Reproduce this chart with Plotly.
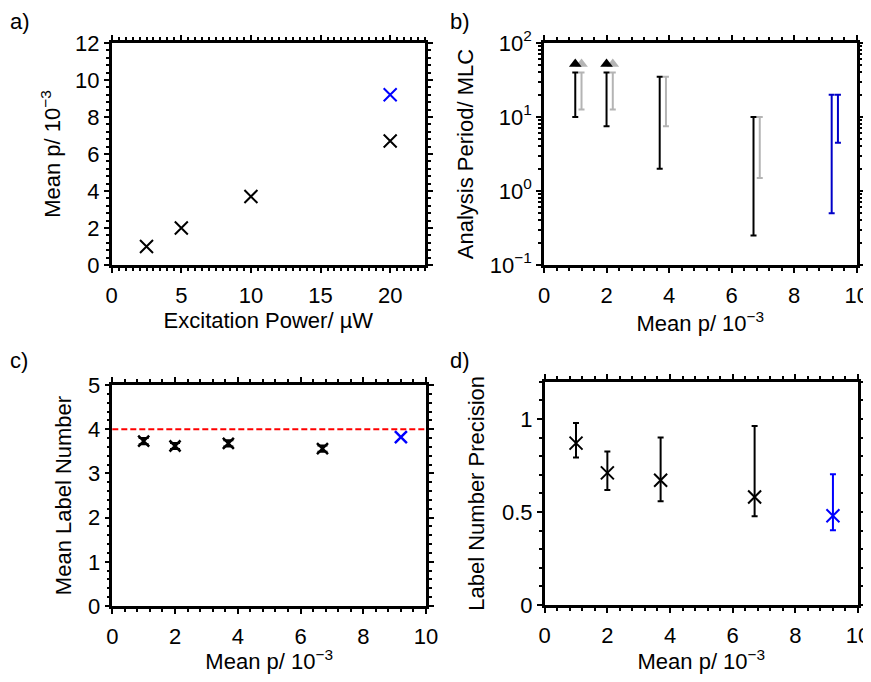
import plotly.graph_objects as go

OFF = 8            # default page body margin that offsets the figure
W, H = 863, 666    # figure size so the page fits the 871x682 window without scrollbars

# ---- panel a data ----
power = [2.5, 5, 10, 20]
mean_p_power = [1.0, 2.0, 3.7, 6.7]
power_blue = [20]
mean_p_power_blue = [9.2]

# ---- shared x (mean p / 1e-3) ----
mean_p = [1.0, 2.0, 3.7, 6.7]
mean_p_blue = [9.2]

# ---- panel b data (analysis period / MLC ranges) ----
period_black_x = [1.0, 2.0, 3.7, 6.7]
period_black_low = [10, 7.5, 2.0, 0.25]
period_black_high = [40, 40, 35, 10]
period_gray_x = [1.2, 2.2, 3.9, 6.9]
period_gray_low = [12.6, 12.6, 7.5, 1.5]
period_gray_high = [40, 40, 35, 10]
period_blue_x = [9.2, 9.4]
period_blue_low = [0.5, 4.5]
period_blue_high = [20, 20]
arrow_black_x = [1.0, 2.0]
arrow_gray_x = [1.2, 2.2]
arrow_y = [52, 52]
log_tickvals = [0.1, 1, 10, 100]
log_ticktext = ["10<sup>\u22121</sup>", "10<sup>0</sup>", "10<sup>1</sup>", "10<sup>2</sup>"]

# ---- panel c data ----
label_number = [3.73, 3.62, 3.68, 3.56]
label_number_err = [0.07, 0.07, 0.07, 0.07]
label_number_blue = [3.82]
label_target = 4

# ---- panel d data ----
precision = [0.87, 0.71, 0.67, 0.58]
precision_high = [0.978, 0.825, 0.90, 0.962]
precision_low = [0.793, 0.618, 0.558, 0.477]
precision_blue = [0.48]
precision_blue_high = [0.703]
precision_blue_low = [0.402]

panel_labels = ["a)", "b)", "c)", "d)"]

BLACK = "black"
BLUE = "#0000ff"
DBLUE = "#0000c8"
GRAY = "#b4b4b4"
FONT = "Liberation Sans, Arial, sans-serif"
FS = 22


def px_x(a, b):
    return [(a - OFF) / W, (b - OFF) / W]


def px_y(top, bottom):
    return [1 - (bottom - OFF) / H, 1 - (top - OFF) / H]


def axis(domain, anchor, rng, dtick, minor_dtick, title, standoff, **kw):
    d = dict(
        domain=domain, anchor=anchor, range=rng, dtick=dtick, tick0=0,
        showline=True, linecolor="black", linewidth=2.5, mirror="allticks",
        ticks="outside", ticklen=5, tickwidth=2, tickcolor="black",
        showgrid=False, zeroline=False, fixedrange=True, automargin=False,
        tickfont=dict(family=FONT, size=FS, color="black"),
        title=dict(text=title, font=dict(family=FONT, size=FS, color="black"), standoff=standoff),
        minor=dict(ticks="outside", ticklen=3, tickwidth=2, tickcolor="black",
                   dtick=minor_dtick, tick0=0, showgrid=False),
    )
    d.update(kw)
    return d


def xmarker(color, size=12, width=2):
    return dict(symbol="x-thin", size=size, color=color, line=dict(width=width, color=color))


fig = go.Figure()

# panel a
fig.add_trace(go.Scatter(x=power, y=mean_p_power, mode="markers", marker=xmarker(BLACK, 13),
                         xaxis="x", yaxis="y"))
fig.add_trace(go.Scatter(x=power_blue, y=mean_p_power_blue, mode="markers", marker=xmarker(BLUE, 13),
                         xaxis="x", yaxis="y"))


# panel b: range bars
def range_bars(xs, lows, highs, color):
    return go.Scatter(
        x=xs, y=lows, mode="markers",
        marker=dict(size=1, color="rgba(0,0,0,0)"),
        error_y=dict(type="data", symmetric=False,
                     array=[h - l for h, l in zip(highs, lows)],
                     arrayminus=[0] * len(lows),
                     color=color, thickness=2, width=3),
        xaxis="x2", yaxis="y2")


fig.add_trace(range_bars(period_gray_x, period_gray_low, period_gray_high, GRAY))
fig.add_trace(range_bars(period_black_x, period_black_low, period_black_high, BLACK))
fig.add_trace(range_bars(period_blue_x, period_blue_low, period_blue_high, DBLUE))
fig.add_trace(go.Scatter(x=arrow_gray_x, y=arrow_y, mode="markers",
                         marker=dict(symbol="triangle-up", size=11, color=GRAY),
                         xaxis="x2", yaxis="y2"))
fig.add_trace(go.Scatter(x=arrow_black_x, y=arrow_y, mode="markers",
                         marker=dict(symbol="triangle-up", size=11, color=BLACK),
                         xaxis="x2", yaxis="y2"))

# panel c
fig.add_trace(go.Scatter(x=mean_p, y=label_number, mode="markers", marker=xmarker(BLACK, 11, 2.5),
                         error_y=dict(type="data", array=label_number_err, color=BLACK, thickness=2, width=5),
                         xaxis="x3", yaxis="y3"))
fig.add_trace(go.Scatter(x=mean_p_blue, y=label_number_blue, mode="markers", marker=xmarker(BLUE, 12, 2.5),
                         xaxis="x3", yaxis="y3"))

# panel d
fig.add_trace(go.Scatter(
    x=mean_p, y=precision, mode="markers", marker=xmarker(BLACK, 13, 2),
    error_y=dict(type="data", symmetric=False,
                 array=[h - v for h, v in zip(precision_high, precision)],
                 arrayminus=[v - l for v, l in zip(precision, precision_low)],
                 color=BLACK, thickness=2, width=3),
    xaxis="x4", yaxis="y4"))
fig.add_trace(go.Scatter(
    x=mean_p_blue, y=precision_blue, mode="markers", marker=xmarker(BLUE, 13, 2),
    error_y=dict(type="data", symmetric=False,
                 array=[h - v for h, v in zip(precision_blue_high, precision_blue)],
                 arrayminus=[v - l for v, l in zip(precision_blue, precision_blue_low)],
                 color=BLUE, thickness=2, width=3),
    xaxis="x4", yaxis="y4"))

mean_p_title = "Mean p/ 10<sup>\u22123</sup>"

fig.update_layout(
    width=W, height=H, margin=dict(l=0, r=0, t=0, b=0, autoexpand=False),
    paper_bgcolor="white", plot_bgcolor="white", showlegend=False,
    font=dict(family=FONT, size=FS, color="black"),
    xaxis=axis(px_x(111.7, 425), "y", [0, 22.5], 5, 0.5, "Excitation Power/ \u00b5W", 0,
               ticklabelstandoff=4),
    yaxis=axis(px_y(43, 265), "x", [0, 12], 2, 0.4, mean_p_title, 9),
    xaxis2=axis(px_x(544, 856.7), "y2", [0, 10], 2, 0.4, mean_p_title, 4, ticklabelstandoff=4),
    yaxis2=axis(px_y(43, 265), "x2", [-1, 2], None, None, "Analysis Period/ MLC", 11,
                type="log", tickmode="array", tickvals=log_tickvals, ticktext=log_ticktext,
                minor=dict(ticks="outside", ticklen=3, tickwidth=2, tickcolor="black",
                           tickmode="array",
                           tickvals=[m * 10 ** e for e in (-1, 0, 1) for m in range(2, 10)],
                           showgrid=False)),
    xaxis3=axis(px_x(112.3, 426), "y3", [0, 10], 2, 0.4, mean_p_title, 6, ticklabelstandoff=4),
    yaxis3=axis(px_y(385, 606), "x3", [0, 5], 1, 0.2, "Mean Label Number", 11),
    xaxis4=axis(px_x(544.7, 858), "y4", [0, 10], 2, 0.4, mean_p_title, 6, ticklabelstandoff=4),
    yaxis4=axis(px_y(381.7, 605), "x4", [0, 1.2], 0.5, 0.1, "Label Number Precision", 12),
)

fig.add_shape(type="line", xref="x3 domain", yref="y3", x0=0, x1=1, y0=label_target, y1=label_target,
              line=dict(color="red", width=2, dash="6px,3px"))

for txt, x, y in zip(panel_labels, [9, 449, 9, 449], [8, 8, 347, 347]):
    fig.add_annotation(text=txt, xref="paper", yref="paper", x=(x - OFF) / W, y=1 - (y - OFF) / H,
                       xanchor="left", yanchor="top", showarrow=False, borderpad=0,
                       font=dict(family=FONT, size=FS, color="black"))

fig.write_html("out.html")
